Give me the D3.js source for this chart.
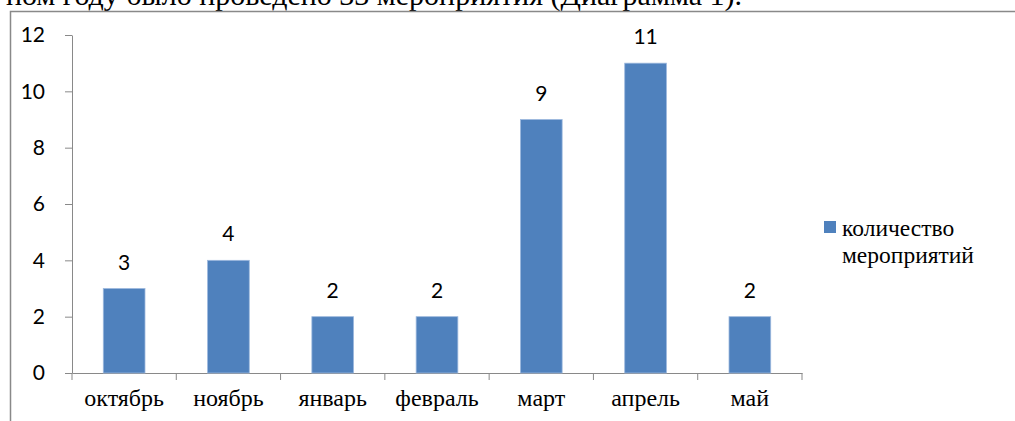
<!DOCTYPE html>
<html><head><meta charset="utf-8">
<script src="https://cdn.jsdelivr.net/npm/d3@7"></script>
<style>body{margin:0;background:#fff;overflow:hidden}svg{display:block}
.serif{font-family:"Liberation Serif","DejaVu Serif",serif}
.sans{font-family:Lato,"Open Sans",sans-serif}
</style>
</head><body>
<svg id="c" width="1015" height="421"></svg>
<script>
const categories = ["октябрь","ноябрь","январь","февраль","март","апрель","май"];
const values = [3,4,2,2,9,11,2];
const yTicks = [0,2,4,6,8,10,12];
const seriesName = ["количество","мероприятий"];
const captionText = "ном году было проведено 33 мероприятия (Диаграмма 1).";

const svg = d3.select("#c");

svg.append("text").attr("class","serif").attr("x",742).attr("y",5).attr("text-anchor","end")
  .attr("font-size",30).text(captionText);

svg.append("rect").attr("x",10.5).attr("y",11.5).attr("width",1020).attr("height",430)
  .attr("fill","none").attr("stroke","#898989").attr("stroke-width",1.5);

const x = d3.scaleBand().domain(categories).range([72,802]).paddingInner(0.6).paddingOuter(0.3);
const y = d3.scaleLinear().domain([0,12]).range([373,35]);

const yAxis = svg.append("g").attr("transform","translate(72,0)")
  .call(d3.axisLeft(y).tickValues(yTicks).tickSize(7).tickPadding(20).tickSizeOuter(0));
yAxis.attr("font-family",null).attr("font-size",null);
yAxis.select(".domain").attr("stroke","#898989");
yAxis.selectAll(".tick line").attr("stroke","#898989");
yAxis.selectAll("text").attr("class","sans").attr("font-size",21).attr("fill","#000");

const xb = d3.scaleBand().domain(categories).range([72,802]);
const xAxis = svg.append("g").attr("transform","translate(0,373)")
  .call(d3.axisBottom(xb).tickSize(0).tickPadding(0).tickSizeOuter(0));
xAxis.attr("font-family",null).attr("font-size",null);
xAxis.select(".domain").attr("stroke","#898989");
xAxis.selectAll("text").attr("class","serif").attr("font-size",24).attr("fill","#000").attr("dy",0).attr("y",33);
const bounds = categories.map(c=>xb(c)).concat([xb.range()[1]]);
svg.append("g").selectAll("line").data(bounds).join("line")
  .attr("x1",d=>d).attr("x2",d=>d).attr("y1",373).attr("y2",380).attr("stroke","#898989");

svg.append("g").selectAll("rect").data(values).join("rect")
  .attr("x",(d,i)=>x(categories[i])).attr("width",x.bandwidth())
  .attr("y",d=>y(d)).attr("height",d=>373-y(d))
  .attr("fill","#4F81BD").attr("stroke","#9DB9DE").attr("stroke-width",0.8);

svg.append("g").selectAll("text").data(values).join("text")
  .attr("class","sans").attr("font-size",21)
  .attr("x",(d,i)=>x(categories[i])+x.bandwidth()/2).attr("y",d=>y(d)-19)
  .attr("text-anchor","middle").text(d=>d);

const lg = svg.append("g");
lg.append("rect").attr("x",824).attr("y",221).attr("width",12).attr("height",12).attr("fill","#4F81BD");
lg.selectAll("text").data(seriesName).join("text")
  .attr("class","serif").attr("font-size",23.5)
  .attr("x",842).attr("y",(d,i)=>236+i*27).text(d=>d);
</script>
</body></html>
